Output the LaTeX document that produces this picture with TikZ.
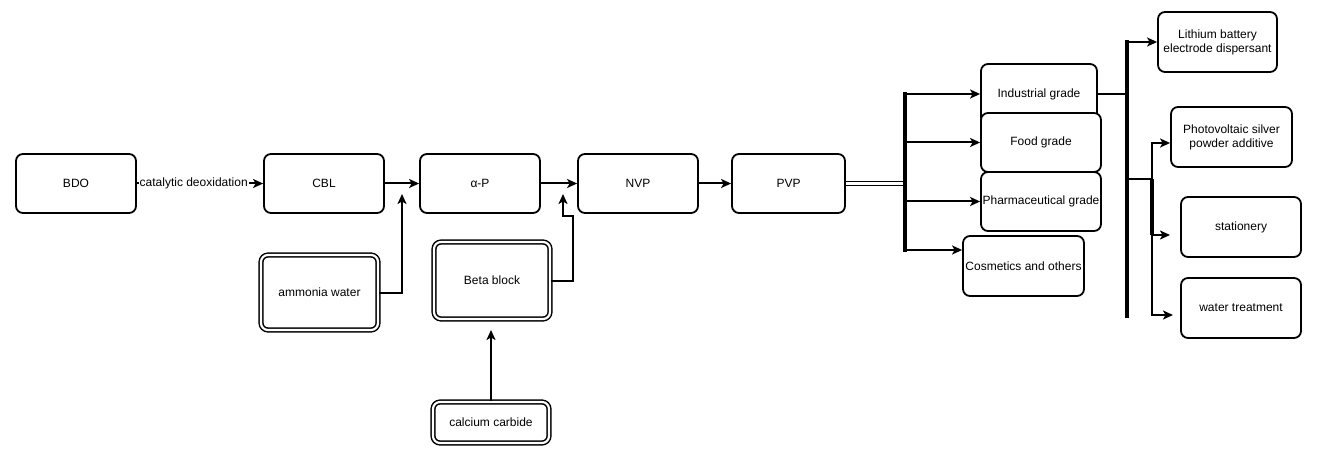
\documentclass[tikz,border=0pt]{standalone}
\usepackage{fontspec}
\setmainfont{Liberation Sans}
\usetikzlibrary{arrows.meta}
\begin{document}
\begin{tikzpicture}[x=1pt,y=-1pt,
  box/.style={draw,line width=1.8pt,rounded corners=7pt,fill=white,align=center,
    font=\fontsize{12}{14}\selectfont,inner sep=0pt},
  dbox/.style={box,double,double distance=2.2pt,line width=1.5pt},
  arr/.style={line width=2pt,-{Stealth[length=10pt,width=9pt,inset=2.5pt]}},
  ln/.style={line width=2pt},
  bus/.style={line width=4pt},
  dbl/.style={double,double distance=2.5pt,line width=1.2pt},
  lbl/.style={fill=white,inner sep=1pt,font=\fontsize{12}{14}\selectfont}]
\useasboundingbox (0,0) rectangle (1332,454);

% main chain
\node[box,minimum width=120pt,minimum height=59pt] (bdo) at (76,183.5) {BDO};
\node[box,minimum width=120pt,minimum height=59pt] (cbl) at (324,183.5) {CBL};
\node[box,minimum width=120pt,minimum height=59pt] (ap) at (480,183.5) {α-P};
\node[box,minimum width=120pt,minimum height=59pt] (nvp) at (638,183.5) {NVP};
\node[box,minimum width=113pt,minimum height=59pt] (pvp) at (788.5,183.5) {PVP};

\node[dbox,minimum width=117pt,minimum height=75pt] (amm) at (319.5,292.5) {ammonia water};
\node[dbox,minimum width=116pt,minimum height=77pt] (beta) at (492,280.5) {Beta block};
\node[dbox,minimum width=116pt,minimum height=41pt] (calc) at (491,422.5) {calcium carbide};

% grades
\node[box,minimum width=116pt,minimum height=60pt] (ind) at (1039,94) {Industrial grade};
\node[box,minimum width=120pt,minimum height=59pt] (food) at (1041,142.5) {Food grade};
\node[box,minimum width=120pt,minimum height=59pt] (pharm) at (1041,201.5) {Pharmaceutical grade};
\node[box,minimum width=121pt,minimum height=60pt] (cos) at (1023.5,266) {Cosmetics and others};

% applications
\node[box,minimum width=119pt,minimum height=60pt] (lith) at (1217.5,42) {Lithium battery\\electrode dispersant};
\node[box,minimum width=121pt,minimum height=60pt] (photo) at (1231.5,137) {Photovoltaic silver\\powder additive};
\node[box,minimum width=120pt,minimum height=60pt] (stat) at (1241,227) {stationery};
\node[box,minimum width=120pt,minimum height=60pt] (water) at (1241,308) {water treatment};

% coordinates
\coordinate (j1) at (402,194);
\coordinate (k1) at (573,216);
\coordinate (j2) at (563,194);
\coordinate (j3) at (491,330);
\coordinate (b1t) at (905,92);
\coordinate (b1b) at (905,252);
\coordinate (b1i) at (905,94);
\coordinate (b1f) at (905,142.5);
\coordinate (b1p) at (905,201.5);
\coordinate (b1c) at (905,250);
\coordinate (b1m) at (903,183.5);
\coordinate (b2t) at (1127,40);
\coordinate (b2b) at (1127,318);
\coordinate (b2i) at (1127,94);
\coordinate (b2l) at (1127,42);
\coordinate (b2s) at (1127,179);
\coordinate (br) at (1152,179);
\coordinate (bp) at (1152,143);
\coordinate (bs) at (1152,235);
\coordinate (bw) at (1152,315);
\coordinate (ps) at (1170,235);
\coordinate (pw) at (1173,315);

% chain connectors
\draw[arr] (bdo) -- node[lbl,pos=0.45] {catalytic deoxidation} (cbl);
\draw[arr] (cbl) -- (ap);
\draw[arr] (ap) -- (nvp);
\draw[arr] (nvp) -- (pvp);
\draw[arr] (amm.east) -| (j1);
\draw[arr] (beta.east) -| (k1) -| (j2);
\draw[arr] (calc.north) -- (j3);

% bus 1
\draw[dbl] (pvp.east) -- (b1m);
\draw[bus] (b1t) -- (b1b);
\draw[arr] (b1i) -- (ind.west);
\draw[arr] (b1f) -- (food.west);
\draw[arr] (b1p) -- (pharm.west);
\draw[arr] (b1c) -- (b1c -| cos.west);

% bus 2
\draw[ln] (ind.east) -- (b2i);
\draw[bus] (b2t) -- (b2b);
\draw[arr] (b2l) -- (lith.west);
\draw[ln] (b2s) -- (br);
\draw[arr] (br) -- (bp) -- (bp -| photo.west);
\draw[line width=3.5pt] (br) -- (bs);
\draw[arr] (bs) -- (ps);
\draw[arr] (br) -- (bw) -- (pw);
\end{tikzpicture}
\end{document}
